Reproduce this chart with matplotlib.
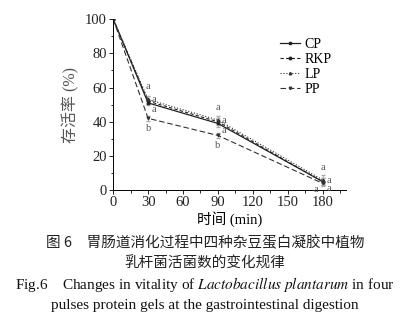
import numpy as np
import matplotlib.pyplot as plt

plt.rcParams['font.family'] = ['Liberation Serif', 'Noto Sans CJK SC']
plt.rcParams['mathtext.fontset'] = 'stix'

# 数据
time = [0, 30, 90, 180]
cp = [100, 51, 39, 5]
rkp = [100, 52, 40, 5]
lp = [100, 53, 41, 6]
pp = [100, 42, 32, 4]
err_cp = [0, 1.5, 2.0, 2.0]
err_rkp = [0, 1.5, 2.0, 2.0]
err_lp = [0, 2.0, 2.5, 3.0]
err_pp = [0, 1.5, 1.5, 1.5]

sig_top = ['a', 'a', 'a']      # LP 上方
sig_r1 = ['a', 'a', 'a']       # 右上
sig_r2 = ['a', 'a', 'a']       # 右下
sig_low = ['b', 'b', 'a']      # PP 下方

fig = plt.figure(figsize=(4.1, 3.28), dpi=100)
ax = fig.add_axes([0.276, 0.42, 0.568, 0.522])

kw = dict(ecolor='#aaaaaa', elinewidth=0.6, capsize=1.5)
h1 = ax.errorbar(time, cp, yerr=err_cp, color='#222222', ls='-', lw=0.9, marker='s', ms=2.0, **kw)
h2 = ax.errorbar(time, rkp, yerr=err_rkp, color='#222222', ls=(0, (3, 2)), lw=0.8, marker='o', ms=1.8, **kw)
h3 = ax.errorbar(time, lp, yerr=err_lp, color='#333333', ls=':', lw=0.8, marker='^', ms=1.8, **kw)
h4 = ax.errorbar(time, pp, yerr=err_pp, color='#333333', ls=(0, (5, 2.5)), lw=0.8, marker='v', ms=1.8, **kw)

# 显著性字母
tc = '#555555'
fs = 7.5
for i, t in enumerate(time[1:]):
    k = i + 1
    ax.annotate(sig_top[i], (t, lp[k]), xytext=(0, 6), textcoords='offset points',
                ha='center', va='bottom', fontsize=fs, color=tc)
    ax.annotate(sig_r1[i], (t, rkp[k]), xytext=(2.5, 1), textcoords='offset points',
                ha='left', va='center', fontsize=fs, color=tc)
    ax.annotate(sig_r2[i], (t, cp[k]), xytext=(2.5, -5), textcoords='offset points',
                ha='left', va='center', fontsize=fs, color=tc)
    ax.annotate(sig_low[i], (t, pp[k]), xytext=(0, -4) if k < 3 else (-3, -1),
                textcoords='offset points', ha='center' if k < 3 else 'right',
                va='top', fontsize=fs, color=tc)

ax.set_xlim(0, 200)
ax.set_ylim(0, 100)
ax.set_xticks([0, 30, 60, 90, 120, 150, 180])
ax.set_xticks(np.arange(15, 200, 15), minor=True)
ax.set_yticks([0, 20, 40, 60, 80, 100])
ax.set_yticks(np.arange(10, 100, 10), minor=True)
ax.tick_params(direction='out', length=3, width=0.7, labelsize=10.5, pad=1.5, colors='#222222')
ax.tick_params(which='minor', direction='out', length=1.8, width=0.6)
for s in ['top', 'right']:
    ax.spines[s].set_visible(False)
for s in ['left', 'bottom']:
    ax.spines[s].set_linewidth(0.7)

ax.set_xlabel('时间 (min)', fontsize=10.5, labelpad=1)
ax.set_ylabel('存活率 (%)', fontsize=11.5, color='#555555', labelpad=4)

handles = [h[0] for h in (h1, h2, h3, h4)]
ax.legend(handles, ['CP', 'RKP', 'LP', 'PP'], loc='upper left', bbox_to_anchor=(0.685, 0.93),
          frameon=False, fontsize=10, handlelength=1.5, handletextpad=0.3,
          labelspacing=0.15, borderpad=0)

# 图题
fig.text(0.5, 0.258, '图 6\u3000胃肠道消化过程中四种杂豆蛋白凝胶中植物', ha='center', va='center',
         fontsize=10.5, family=['Noto Sans CJK SC'], color='#222222')
fig.text(0.5, 0.197, '乳杆菌活菌数的变化规律', ha='center', va='center',
         fontsize=10.5, family=['Noto Sans CJK SC'], color='#222222')
fig.text(0.5, 0.133, r'Fig.6    Changes in vitality of $\it{Lactobacillus\ plantarum}$ in four',
         ha='center', va='center', fontsize=11, color='#111111')
fig.text(0.5, 0.07, 'pulses protein gels at the gastrointestinal digestion',
         ha='center', va='center', fontsize=11, color='#111111')

fig.savefig('out.png', dpi=100)
